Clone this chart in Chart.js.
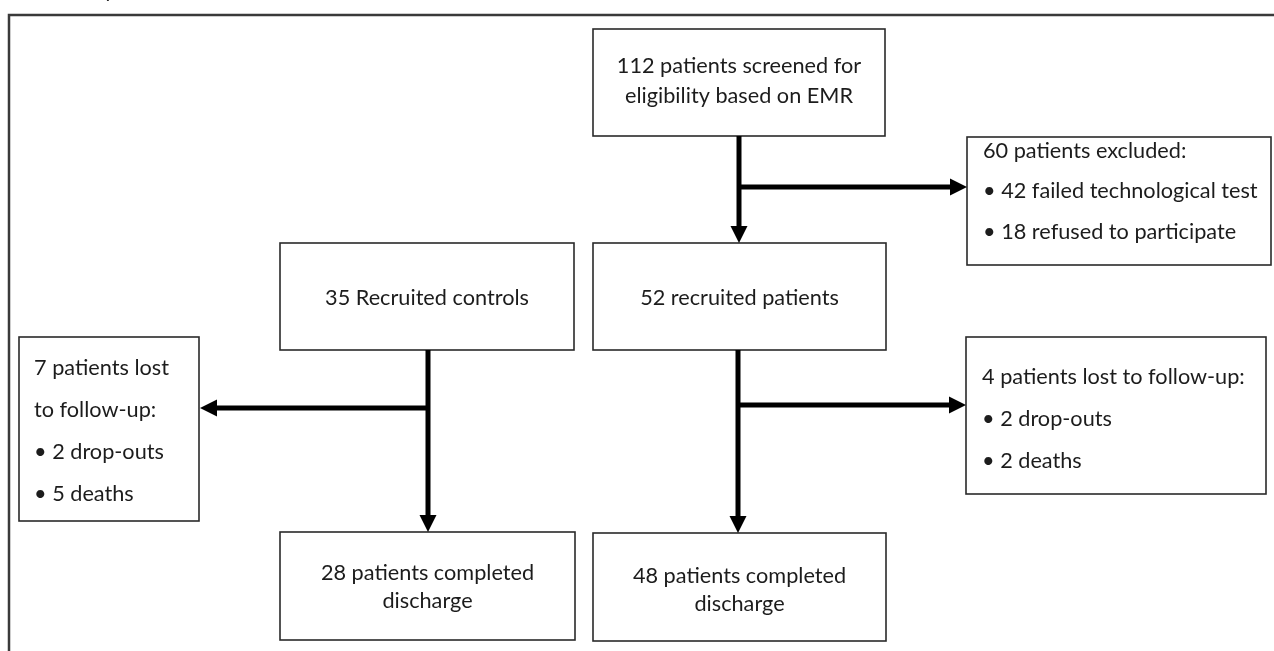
<!DOCTYPE html>
<html><head><meta charset="utf-8">
<script src="https://cdn.jsdelivr.net/npm/chart.js@4.4.1/dist/chart.umd.min.js"></script>
<style>html,body{margin:0;padding:0;background:#fff;overflow:hidden}#wrap{width:1274px;height:651px;position:relative}</style>
</head><body><div id="wrap"><canvas id="c"></canvas></div>
<script>
// ---- data ----
const screenedCount = 112;
const excludedReasons = ['failed technological test', 'refused to participate'];
const excludedCounts = [42, 18];
const groupNames = ['Recruited controls', 'recruited patients'];
const recruitedCounts = [35, 52];
const lossReasons = ['drop-outs', 'deaths'];
const lostControlCounts = [2, 5];
const lostPatientCounts = [2, 2];
const completedCounts = [28, 48];

const sum = a => a.reduce((s, v) => s + v, 0);

// node texts built from the data
const nodeTexts = {
  screened: [screenedCount + ' patients screened for', 'eligibility based on EMR'],
  excluded: [sum(excludedCounts) + ' patients excluded:'].concat(excludedCounts.map((n, i) => '\u2022 ' + n + ' ' + excludedReasons[i])),
  controls: [recruitedCounts[0] + ' ' + groupNames[0]],
  recruited: [recruitedCounts[1] + ' ' + groupNames[1]],
  lostC: [sum(lostControlCounts) + ' patients lost', 'to follow-up:'].concat(lostControlCounts.map((n, i) => '\u2022 ' + n + ' ' + lossReasons[i])),
  lostP: [sum(lostPatientCounts) + ' patients lost to follow-up:'].concat(lostPatientCounts.map((n, i) => '\u2022 ' + n + ' ' + lossReasons[i])),
  doneC: [completedCounts[0] + ' patients completed', 'discharge'],
  doneP: [completedCounts[1] + ' patients completed', 'discharge']
};

// ---- layout (in axis units) ----
const layout = {
  screened: {box: [593, 29, 885, 136], align: 'center', lines: [66, 96]},
  excluded: {box: [967, 137, 1271, 265], align: 'left', tx: 983, lines: [151, 191, 232]},
  controls: {box: [280, 243, 574, 350], align: 'center', lines: [298]},
  recruited: {box: [593, 243, 886, 350], align: 'center', lines: [298]},
  lostC: {box: [19, 337, 199, 521], align: 'left', tx: 34, lines: [368, 410, 452, 494]},
  lostP: {box: [966, 337, 1266, 494], align: 'left', tx: 982, lines: [377, 419, 461]},
  doneC: {box: [280, 532, 575, 640], align: 'center', lines: [573, 601]},
  doneP: {box: [593, 533, 886, 641], align: 'center', lines: [576, 604]}
};
const connectors = [
  {from: [739, 136], to: [739, 243]},
  {from: [739, 187], to: [967, 187]},
  {from: [428, 350], to: [428, 532]},
  {from: [428, 408], to: [200, 408]},
  {from: [738, 350], to: [738, 533]},
  {from: [738, 405], to: [966, 405]}
];

const FONT = 'Lato, "Open Sans", sans-serif';

const flowPlugin = {
  id: 'flow',
  afterDraw(chart) {
    const ctx = chart.ctx;
    const X = v => chart.scales.x.getPixelForValue(v);
    const Y = v => chart.scales.y.getPixelForValue(v);
    ctx.save();
    // font size fitted to reference width
    ctx.font = '100px ' + FONT;
    const w100 = ctx.measureText(nodeTexts.controls[0]).width;
    const fs = 100 * 204 / w100;
    // outer frame
    ctx.strokeStyle = '#3a3a3a';
    ctx.lineWidth = 2.5;
    ctx.beginPath();
    ctx.moveTo(X(9), Y(660));
    ctx.lineTo(X(9), Y(15));
    ctx.lineTo(X(1280), Y(15));
    ctx.stroke();
    // stray descender from text above
    ctx.fillStyle = '#222';
    ctx.font = fs + 'px ' + FONT;
    ctx.textBaseline = 'alphabetic';
    ctx.textAlign = 'left';
    ctx.fillText('y', X(104), Y(-3));
    // boxes
    Object.keys(layout).forEach(k => {
      const L = layout[k];
      const [x0, y0, x1, y1] = L.box;
      ctx.fillStyle = '#fff';
      ctx.fillRect(X(x0), Y(y0), X(x1) - X(x0), Y(y1) - Y(y0));
      ctx.strokeStyle = '#2a2a2a';
      ctx.lineWidth = 1.6;
      ctx.strokeRect(X(x0), Y(y0), X(x1) - X(x0), Y(y1) - Y(y0));
      ctx.fillStyle = '#1c1c1c';
      ctx.font = fs + 'px ' + FONT;
      ctx.textBaseline = 'middle';
      const texts = nodeTexts[k];
      texts.forEach((t, i) => {
        if (L.align === 'center') {
          ctx.textAlign = 'center';
          ctx.fillText(t, X((x0 + x1) / 2), Y(L.lines[i]));
        } else {
          ctx.textAlign = 'left';
          ctx.fillText(t, X(L.tx), Y(L.lines[i]));
        }
      });
    });
    // connectors with arrowheads
    ctx.strokeStyle = '#000';
    ctx.fillStyle = '#000';
    ctx.lineWidth = 5;
    ctx.lineCap = 'butt';
    connectors.forEach(c => {
      const fx = X(c.from[0]), fy = Y(c.from[1]), tx = X(c.to[0]), ty = Y(c.to[1]);
      const dx = tx - fx, dy = ty - fy, len = Math.hypot(dx, dy);
      const ux = dx / len, uy = dy / len;
      const hl = 17, hw = 8.5;
      const bx = tx - ux * hl, by = ty - uy * hl;
      ctx.beginPath();
      ctx.moveTo(fx - ux * 0, fy - uy * 0);
      ctx.lineTo(bx + ux, by + uy);
      ctx.stroke();
      ctx.beginPath();
      ctx.moveTo(tx, ty);
      ctx.lineTo(bx - uy * hw, by + ux * hw);
      ctx.lineTo(bx + uy * hw, by - ux * hw);
      ctx.closePath();
      ctx.fill();
    });
    ctx.restore();
  }
};

new Chart(document.getElementById('c'), {
  type: 'scatter',
  data: {datasets: [{data: [], pointRadius: 0}]},
  options: {
    responsive: true,
    maintainAspectRatio: false,
    animation: false,
    layout: {padding: 0},
    plugins: {legend: {display: false}, tooltip: {enabled: false}},
    scales: {
      x: {type: 'linear', min: 0, max: 1274, display: false},
      y: {type: 'linear', min: 0, max: 651, reverse: true, display: false}
    }
  },
  plugins: [flowPlugin]
});
</script>
</body></html>
